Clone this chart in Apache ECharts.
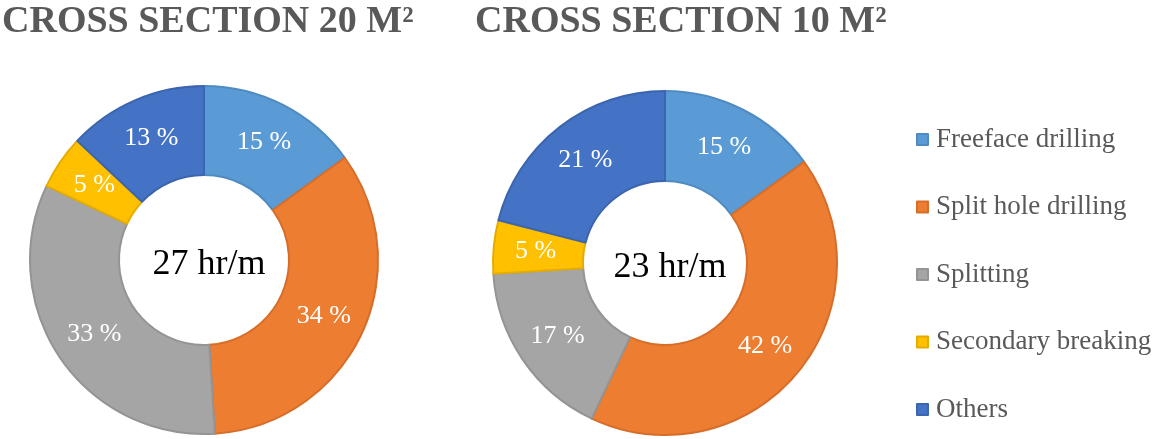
<!DOCTYPE html>
<html>
<head>
<meta charset="utf-8">
<script src="https://cdn.jsdelivr.net/npm/echarts@6/dist/echarts.min.js"></script>
<style>
html,body{margin:0;padding:0;background:#fff;}
#chart{width:1154px;height:439px;}
</style>
</head>
<body>
<div id="chart"></div>
<script>
const categories = ['Freeface drilling', 'Split hole drilling', 'Splitting', 'Secondary breaking', 'Others'];
const values20 = [15, 34, 33, 5, 13];
const values10 = [15, 42, 17, 5, 21];
const titles = ['CROSS SECTION 20 M\u00B2', 'CROSS SECTION 10 M\u00B2'];
const centerTexts = ['27 hr/m', '23 hr/m'];
const colors = ['#5B9BD5', '#ED7D31', '#A5A5A5', '#FFC000', '#4472C4'];
const borders = ['#4F8BC2', '#D66E2A', '#949494', '#E5AC00', '#3C65AF'];

const serif = '"Liberation Serif", "Times New Roman", serif';

function makeData(vals) {
  return categories.map((c, i) => ({
    name: c,
    value: vals[i],
    itemStyle: { color: colors[i], borderColor: borders[i], borderWidth: 2 }
  }));
}

function pieSeries(vals, center, radius) {
  return {
    type: 'pie',
    center: center,
    radius: radius,
    startAngle: 90,
    clockwise: true,
    avoidLabelOverlap: false,
    silent: true,
    label: {
      show: true,
      position: 'inside',
      formatter: '{c} %',
      color: '#ffffff',
      fontFamily: serif,
      fontSize: 26
    },
    labelLine: { show: false },
    data: makeData(vals)
  };
}

const chart = echarts.init(document.getElementById('chart'), null, { renderer: 'canvas' });
chart.setOption({
  backgroundColor: '#ffffff',
  animation: false,
  title: [
    { text: titles[0], left: 2, top: 3, padding: 0,
      textStyle: { fontFamily: serif, fontWeight: 'bold', fontSize: 38, color: '#595959' } },
    { text: titles[1], left: 475, top: 3, padding: 0,
      textStyle: { fontFamily: serif, fontWeight: 'bold', fontSize: 38, color: '#595959' } },
    { text: centerTexts[0], left: 204, top: 260, textAlign: 'center', textVerticalAlign: 'middle',
      textStyle: { fontFamily: serif, fontWeight: 'normal', fontSize: 36, color: '#000000' } },
    { text: centerTexts[1], left: 665, top: 263, textAlign: 'center', textVerticalAlign: 'middle',
      textStyle: { fontFamily: serif, fontWeight: 'normal', fontSize: 36, color: '#000000' } }
  ],
  legend: {
    orient: 'vertical',
    left: 911,
    top: 121,
    icon: 'rect',
    itemWidth: 11,
    itemHeight: 11,
    itemGap: 40.5,
    selectedMode: false,
    data: categories,
    textStyle: { fontFamily: serif, fontSize: 27, color: '#595959', padding: [0, 0, 0, 3] }
  },
  series: [
    pieSeries(values20, [204, 260], [85, 174]),
    pieSeries(values10, [665, 263], [82, 172])
  ]
});
</script>
</body>
</html>
